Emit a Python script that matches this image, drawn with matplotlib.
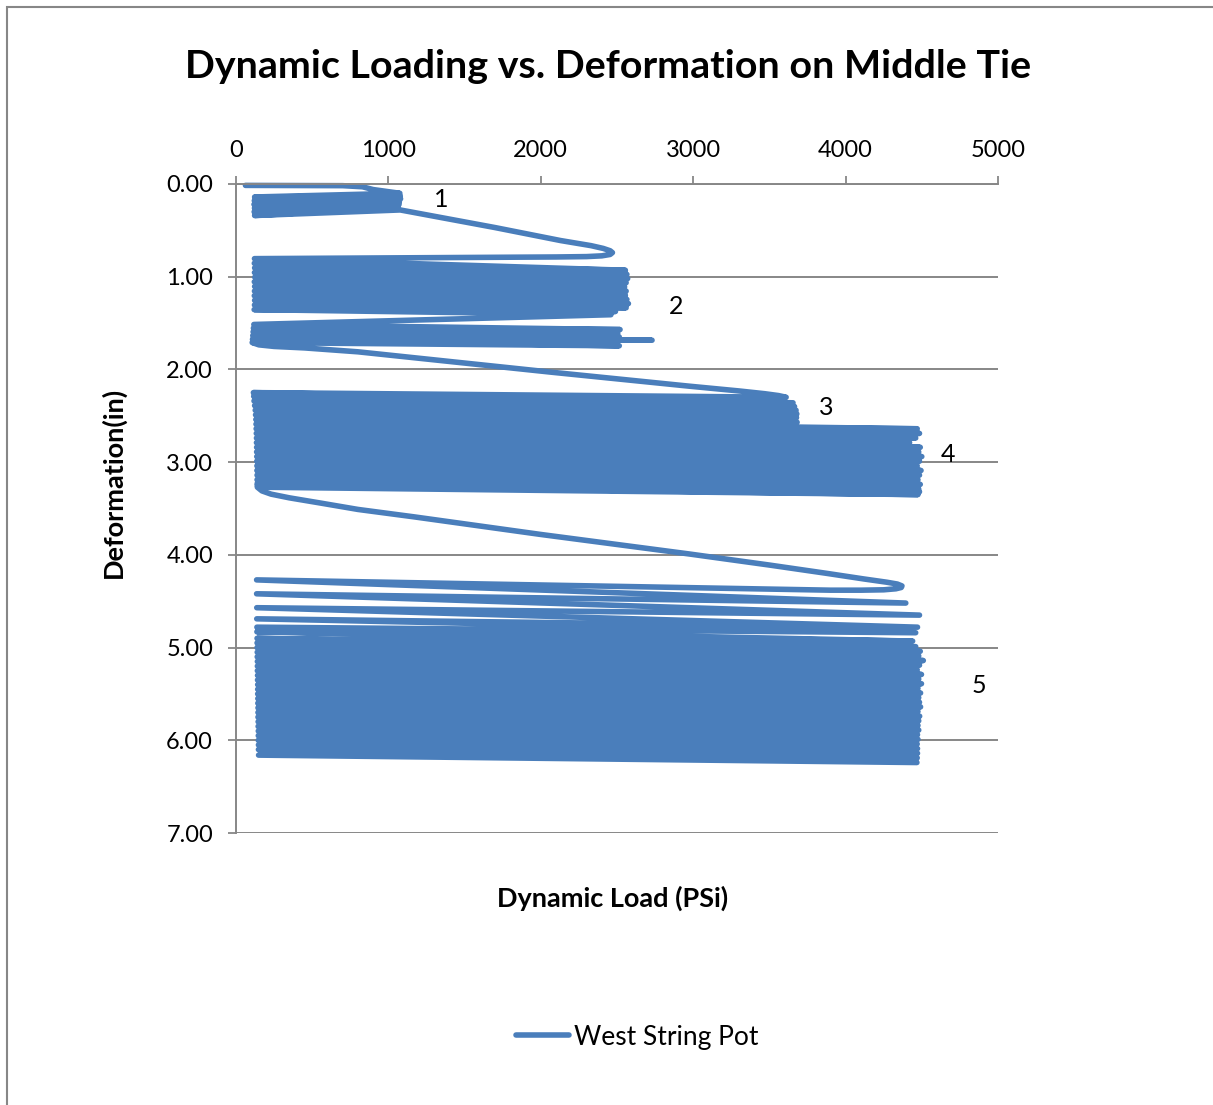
import numpy as np
import matplotlib
matplotlib.use('Agg')
from matplotlib import pyplot as plt

plt.rcParams['font.family'] = ['Lato', 'DejaVu Sans']

# start of the record (line along the top)
start_load = [62, 700, 830, 900]
start_def = [0.015, 0.018, 0.03, 0.06]

# block 1: right turning points first, then left ones
b1_hi_load = [1075, 1078, 1080, 1072, 1070, 1065, 1078]
b1_hi_def = [0.10, 0.13, 0.16, 0.19, 0.22, 0.25, 0.28]
b1_lo_load = [122, 120, 118, 121, 119, 122]
b1_lo_def = [0.14, 0.18, 0.22, 0.26, 0.30, 0.34]

# sweep from block 1 into block 2
sw1_load = [1700, 2130, 2330, 2410, 2455, 2470, 2455, 2400, 2300, 2100]
sw1_def = [0.47, 0.61, 0.665, 0.695, 0.72, 0.74, 0.76, 0.775, 0.783, 0.787]

# block 2, upper part
b2a_lo_load = [121, 120, 122, 121, 123, 120, 122, 121, 120, 122, 121, 119]
b2a_lo_def = [0.805, 0.855, 0.905, 0.955, 1.005, 1.055, 1.105, 1.155, 1.205, 1.255, 1.305, 1.355]
b2a_hi_load = [2555, 2565, 2570, 2560, 2550, 2560, 2555, 2565, 2575, 2560, 2490, 2460]
b2a_hi_def = [0.93, 0.975, 1.02, 1.065, 1.11, 1.155, 1.20, 1.245, 1.29, 1.335, 1.375, 1.41]

# block 2, lower part
b2b_lo_load = [117, 114, 112, 110, 108, 106]
b2b_lo_def = [1.515, 1.555, 1.595, 1.635, 1.675, 1.71]
b2b_hi_load = [2520, 2505, 2515, 2730, 2515]
b2b_hi_def = [1.57, 1.61, 1.65, 1.685, 1.745]

# sweep from block 2 into block 3
sw2_load = [150, 250, 450, 800, 2070, 2970, 3300, 3470, 3560, 3610]
sw2_def = [1.735, 1.752, 1.768, 1.81, 2.03, 2.18, 2.232, 2.262, 2.282, 2.30]

# blocks 3 and 4
b34_lo_load = [114, 116, 118, 122, 126, 128, 130, 131, 132, 133, 134, 134, 135, 135, 136, 136,
               137, 137, 138, 138, 139, 139, 140]
b34_lo_def = [2.25, 2.29, 2.34, 2.39, 2.44, 2.49, 2.54, 2.59, 2.64, 2.69, 2.74, 2.79, 2.84, 2.89,
              2.94, 2.99, 3.04, 3.09, 3.14, 3.19, 3.23, 3.25, 3.27]
b34_hi_load = [3655, 3665, 3675, 3680, 3678, 3682,
               4470, 4485, 4460, 4420, 4490, 4480, 4500, 4485, 4470, 4495, 4485, 4475, 4490, 4480,
               4485, 4475]
b34_hi_def = [2.36, 2.40, 2.44, 2.48, 2.52, 2.57,
              2.64, 2.69, 2.74, 2.79, 2.84, 2.89, 2.94, 2.99, 3.04, 3.09, 3.14, 3.19, 3.24, 3.29,
              3.32, 3.35]

# sweep from block 4 into block 5
sw3_load = [170, 230, 350, 550, 800, 1168, 2000, 2972, 3500, 3878, 4120, 4270, 4340, 4370,
            4365, 4330, 4250, 4100, 3900]
sw3_def = [3.31, 3.345, 3.385, 3.44, 3.51, 3.59, 3.78, 3.99, 4.11, 4.20, 4.26, 4.295, 4.315,
           4.335, 4.352, 4.366, 4.377, 4.381, 4.381]

# block 5
b5_lo_load = [135, 135, 136, 136, 137, 137, 138, 138, 138, 139, 139, 140, 140, 140, 141, 141,
              142, 142, 142, 143, 143, 144, 144, 144, 145, 145, 146, 146, 146, 147, 147, 148]
b5_lo_def = [4.27, 4.42, 4.57, 4.69, 4.78, 4.83, 4.90, 4.95, 5.00, 5.05, 5.10, 5.15, 5.20, 5.25,
             5.30, 5.35, 5.40, 5.45, 5.50, 5.55, 5.60, 5.65, 5.70, 5.75, 5.80, 5.85, 5.90, 5.95,
             6.00, 6.05, 6.10, 6.16]
b5_hi_load = [4395, 4485, 4472, 4460, 4440, 4460, 4490, 4480, 4510, 4485, 4470, 4498, 4480, 4498,
              4475, 4492, 4480, 4485, 4492, 4475, 4486, 4480, 4475, 4480, 4472, 4475, 4470, 4472,
              4472, 4470, 4468]
b5_hi_def = [4.52, 4.65, 4.78, 4.84, 4.93, 4.99, 5.04, 5.09, 5.14, 5.19, 5.24, 5.29, 5.34, 5.39,
             5.44, 5.49, 5.54, 5.59, 5.64, 5.69, 5.74, 5.79, 5.84, 5.89, 5.94, 5.99, 6.04, 6.09,
             6.14, 6.19, 6.24]

# labels on the blocks
label_text = ['1', '2', '3', '4', '5']
label_load = [1345, 2887, 3871, 4672, 4875]
label_def = [0.17, 1.32, 2.41, 2.92, 5.41]

x_ticks = [0, 1000, 2000, 3000, 4000, 5000]
y_ticks = [0, 1, 2, 3, 4, 5, 6, 7]


def zigzag(a_load, a_def, b_load, b_def):
    '''alternate two sets of turning points: a0, b0, a1, b1, ...'''
    xs, ys = [], []
    for i in range(len(a_load)):
        xs.append(a_load[i])
        ys.append(a_def[i])
        if i < len(b_load):
            xs.append(b_load[i])
            ys.append(b_def[i])
    return xs, ys


parts = [
    (start_load, start_def),
    zigzag(b1_hi_load, b1_hi_def, b1_lo_load, b1_lo_def),
    (sw1_load, sw1_def),
    zigzag(b2a_lo_load, b2a_lo_def, b2a_hi_load, b2a_hi_def),
    zigzag(b2b_lo_load, b2b_lo_def, b2b_hi_load, b2b_hi_def),
    (sw2_load, sw2_def),
    zigzag(b34_lo_load, b34_lo_def, b34_hi_load, b34_hi_def),
    (sw3_load, sw3_def),
    zigzag(b5_lo_load, b5_lo_def, b5_hi_load, b5_hi_def),
]
load = np.concatenate([p[0] for p in parts])
deform = np.concatenate([p[1] for p in parts])

blue = '#4a7ebb'
grey = '#878787'

fig = plt.figure(figsize=(12.13, 11.05), dpi=100)
ax = fig.add_axes([236 / 1213, 1 - 833 / 1105, 762 / 1213, 649 / 1105])

ax.plot(load, deform, color=blue, lw=4.0, solid_joinstyle='round',
        solid_capstyle='round', label='West String Pot', clip_on=False)

for t, x, y in zip(label_text, label_load, label_def):
    ax.text(x, y, t, fontsize=18, ha='center', va='center')

ax.set_xlim(0, 5000)
ax.set_ylim(7, 0)
ax.xaxis.tick_top()
ax.set_xticks(x_ticks)
ax.set_xticklabels([str(v) for v in x_ticks])
ax.set_yticks(y_ticks)
ax.set_yticklabels(['%.2f' % v for v in y_ticks])
ax.tick_params(axis='both', direction='out', length=5.5, width=1.3, color=grey,
               labelsize=17, pad=11)
ax.yaxis.grid(True, color=grey, lw=1.4)
ax.set_axisbelow(True)
for s in ['right', 'bottom']:
    ax.spines[s].set_visible(False)
for s in ['left', 'top']:
    ax.spines[s].set_color(grey)
    ax.spines[s].set_linewidth(1.4)

fig.text(608 / 1213, 1 - 66 / 1105, 'Dynamic Loading vs. Deformation on Middle Tie',
         fontsize=28.4, fontweight='bold', ha='center', va='center')
fig.text(613 / 1213, 1 - 898 / 1105, 'Dynamic Load (PSi)',
         fontsize=19.5, fontweight='bold', ha='center', va='center')
fig.text(113 / 1213, 1 - 482 / 1105, 'Deformation(in)', rotation=90,
         fontsize=19.5, fontweight='bold', ha='center', va='center')

fig.legend(loc='center', bbox_to_anchor=(637 / 1213, 1 - 1037 / 1105), frameon=False,
           fontsize=19, handlelength=2.0, handletextpad=0.2)

fig.add_artist(plt.Rectangle((7 / 1213, -0.02), 1.1, 1 - 7 / 1105 + 0.02,
                             transform=fig.transFigure, fill=False,
                             edgecolor=grey, lw=1.5))

fig.savefig('out.png', dpi=100)
